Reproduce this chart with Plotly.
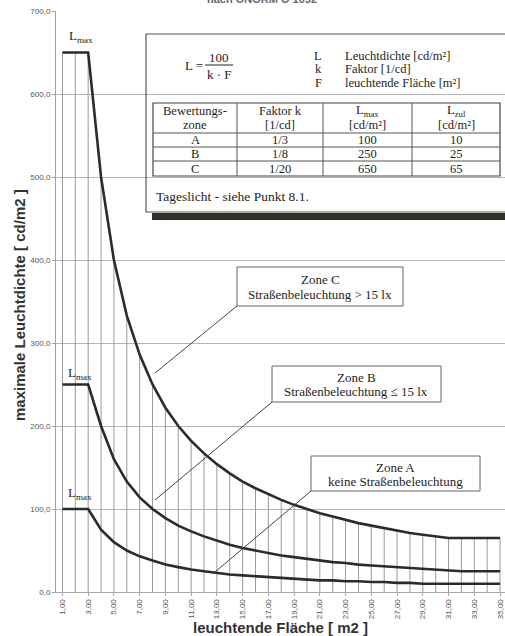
import plotly.graph_objects as go

# ---------------- data ----------------
area = list(range(1, 36))  # leuchtende Fläche [m2]
zone_c = [650, 650, 650, 500, 400, 333, 286, 250, 222, 200, 182, 167, 154, 143, 133,
          125, 118, 111, 105, 100, 95, 91, 87, 83, 80, 77, 74, 71, 69, 67, 65, 65, 65, 65, 65]
zone_b = [250, 250, 250, 200, 160, 133, 114, 100, 89, 80, 73, 67, 62, 57, 53,
          50, 47, 44, 42, 40, 38, 36, 35, 33, 32, 31, 30, 29, 28, 27, 26, 25, 25, 25, 25]
zone_a = [100, 100, 100, 75, 60, 50, 43, 38, 33, 30, 27, 25, 23, 21, 20,
          19, 18, 17, 16, 15, 14, 14, 13, 13, 12, 12, 11, 11, 10, 10, 10, 10, 10, 10, 10]
x_ticks = list(range(1, 36, 2))
y_ticks = [0, 100, 200, 300, 400, 500, 600, 700]

table_header = [["Bewertungs-", "zone"], ["Faktor k", "[1/cd]"],
                ["L<sub>max</sub>", "[cd/m²]"], ["L<sub>zul</sub>", "[cd/m²]"]]
table_rows = [["A", "1/3", "100", "10"],
              ["B", "1/8", "250", "25"],
              ["C", "1/20", "650", "65"]]

# ---------------- geometry helpers (pixel -> paper) ----------------
W, H = 505, 636
PL, PR, PT, PB = 56, 505, 11, 592


def px(x):
    return (x - PL) / (PR - PL)


def py(y):
    return (PB - y) / (PB - PT)


fig = go.Figure()

# drop lines from curve C to the axis
dx, dy = [], []
for xi, ci in zip(area, zone_c):
    dx += [xi, xi, None]
    dy += [0, ci, None]
fig.add_trace(go.Scatter(x=dx, y=dy, mode="lines",
                         line=dict(color="#9a9a9a", width=1),
                         hoverinfo="skip", showlegend=False))

for ys in (zone_c, zone_b, zone_a):
    fig.add_trace(go.Scatter(x=area, y=ys, mode="lines",
                             line=dict(color="#2b2b2b", width=2.6),
                             showlegend=False))

shapes = []
annotations = []

serif = "Liberation Serif, Times New Roman, serif"
sans = "Liberation Sans, Arial, sans-serif"


def txt(x, y, s, size=13, xanchor="center", yanchor="middle", font=serif,
        color="#1e1e1e", angle=0, bold=False):
    if bold:
        s = "<b>" + s + "</b>"
    annotations.append(dict(x=px(x), y=py(y), xref="paper", yref="paper",
                            text=s, showarrow=False, xanchor=xanchor,
                            yanchor=yanchor, textangle=angle,
                            font=dict(family=font, size=size, color=color)))


def line(x0, y0, x1, y1, color="#444", width=1):
    shapes.append(dict(type="line", xref="paper", yref="paper",
                       x0=px(x0), y0=py(y0), x1=px(x1), y1=py(y1),
                       line=dict(color=color, width=width)))


def rect(x0, y0, x1, y1, color="#555", width=1, fill="rgba(0,0,0,0)"):
    shapes.append(dict(type="rect", xref="paper", yref="paper",
                       x0=px(x0), y0=py(y0), x1=px(x1), y1=py(y1),
                       line=dict(color=color, width=width), fillcolor=fill))


# info box with shadow
shapes.append(dict(type="rect", xref="paper", yref="paper",
                   x0=px(152), y0=py(220), x1=px(512), y1=py(213),
                   line=dict(width=0), fillcolor="#2c3429"))
rect(146, 34, 512, 212, color="#555", width=1.2)

# formula
txt(183, 65, "L =", size=13, xanchor="left")
txt(219, 57, "100", size=13)
line(205, 65, 233, 65, color="#222", width=1)
txt(219, 74, "k · F", size=13)

# legend in box
for yy, sym, desc in ((56, "L", "Leuchtdichte [cd/m²]"),
                      (69.5, "k", "Faktor [1/cd]"),
                      (83, "F", "leuchtende Fläche [m²]")):
    txt(318, yy, sym, size=12.5)
    txt(343, yy, desc, size=12.5, xanchor="left")

# table
col_x = [153, 237, 323, 412, 500]
row_y = [103, 133, 147, 161, 176]
rect(col_x[0], row_y[0], col_x[-1], row_y[-1], color="#444", width=1.2)
for cx in col_x[1:-1]:
    line(cx, row_y[0], cx, row_y[-1], color="#555", width=1)
for ry in row_y[1:-1]:
    line(col_x[0], ry, col_x[-1], ry, color="#555", width=1)
for i, (top, bot) in enumerate(table_header):
    cxm = (col_x[i] + col_x[i + 1]) / 2
    txt(cxm, 111, top, size=12.5)
    txt(cxm, 125, bot, size=12.5)
for r, row in enumerate(table_rows):
    ym = (row_y[r + 1] + row_y[r + 2]) / 2
    for i, val in enumerate(row):
        cxm = (col_x[i] + col_x[i + 1]) / 2
        txt(cxm, ym, val, size=12.5)

txt(154, 196, "Tageslicht - siehe Punkt 8.1.", size=13.5, xanchor="left")

# zone labels
rect(237, 267, 403, 306, color="#666", width=1, fill="white")
txt(320, 279, "Zone C", size=13)
txt(320, 294, "Straßenbeleuchtung > 15 lx", size=13)
line(237, 306, 155, 373)

rect(272, 366, 441, 402, color="#666", width=1, fill="white")
txt(356, 377, "Zone B", size=13)
txt(356, 391, "Straßenbeleuchtung ≤ 15 lx", size=13)
line(272, 402, 155, 500)

rect(311, 456, 480, 491, color="#666", width=1, fill="white")
txt(395, 467, "Zone A", size=13)
txt(395, 481, "keine Straßenbeleuchtung", size=13)
line(311, 491, 215, 572)

# Lmax labels
txt(81, 36, "L<sub>max</sub>", size=13)
txt(80, 374, "L<sub>max</sub>", size=13)
txt(80, 493, "L<sub>max</sub>", size=13)

# axis titles
txt(19, 305, "maximale Leuchtdichte [ cd/m2 ]", size=15, font=sans,
    color="#333", angle=-90, bold=True)
txt(280, 627, "leuchtende Fläche [ m2 ]", size=15, font=sans,
    color="#333", bold=True)

# partially visible heading at the very top
txt(262, 7, "nach ÖNORM O 1052", size=11, font=sans, color="#666",
    yanchor="bottom", bold=True)

fig.update_layout(
    width=W, height=H,
    template="none",
    paper_bgcolor="white", plot_bgcolor="white",
    margin=dict(l=PL, r=W - PR, t=PT, b=H - PB, pad=0),
    separators=",.",
    showlegend=False,
    hovermode=False,
    shapes=shapes,
    annotations=annotations,
    xaxis=dict(range=[0.5, 0.5 + (PR - PL) / 12.87], tickvals=x_ticks,
               tickformat=".2f", tickangle=-90, showgrid=False,
               showline=True, linecolor="#a8a8a8", linewidth=1,
               ticks="outside", ticklen=3, tickcolor="#a8a8a8",
               tickfont=dict(family=sans, size=8, color="#555"),
               zeroline=False, automargin=False),
    yaxis=dict(range=[0, 700], tickvals=y_ticks, tickformat=".1f",
               showgrid=True, gridcolor="#b4b4b4", gridwidth=1,
               showline=True, linecolor="#a0a0a0", linewidth=1,
               ticks="outside", ticklen=3, tickcolor="#a0a0a0",
               tickfont=dict(family=sans, size=8, color="#555"),
               zeroline=False, automargin=False),
)

fig.write_html(
    "out.html",
    config={"displayModeBar": False},
    post_script="document.body.style.margin='0';"
                "document.body.style.padding='0';"
                "document.body.style.overflow='hidden';",
)
